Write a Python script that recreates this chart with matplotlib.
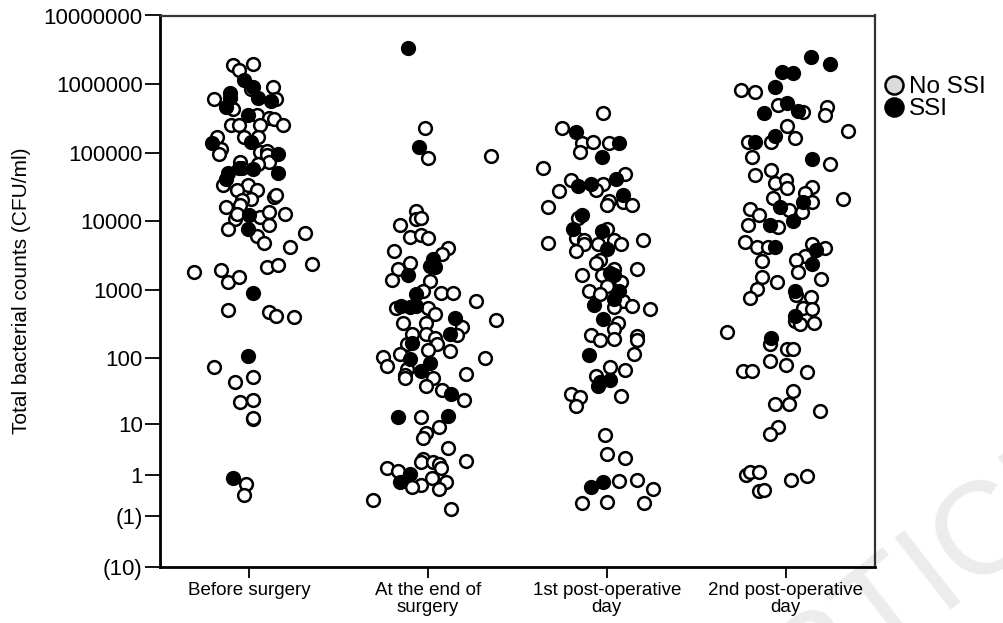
import numpy as np
import matplotlib
matplotlib.use('Agg')
import matplotlib.pyplot as plt
from matplotlib.lines import Line2D

plt.rcParams['font.family'] = ['Liberation Sans', 'DejaVu Sans']

# ---------------- data ----------------
categories = ['Before surgery', 'At the end of\nsurgery',
              '1st post-operative\nday', '2nd post-operative\nday']
tick_values = [1e7, 1e6, 1e5, 1e4, 1e3, 100, 10, 1, -1, -10]
tick_labels = ['10000000', '1000000', '100000', '10000', '1000', '100',
               '10', '1', '(1)', '(10)']
legend_labels = ['No SSI', 'SSI']

# values: signed log10(count + 1) of Total bacterial counts (CFU/ml)
# jitter: horizontal scatter offset of each point within its category
before_no_jit = [-0.09, -0.06, 0.02, 0.01, 0.13, -0.20, -0.09, 0.15, 0.04, 0.11, 0.14, 0.06, -0.10, -0.06, 0.19,
                 -0.18, -0.16, -0.17, -0.03, 0.05, 0.06, 0.10, 0.10, 0.11, 0.05, -0.05, -0.04, -0.15, -0.01, 0.04,
                 -0.07, 0.01, -0.04, -0.05, 0.14, 0.15, -0.13, -0.08, -0.07, 0.06, 0.11, 0.20, 0.11, -0.12, 0.04,
                 0.08, 0.31, 0.23, -0.31, -0.16, -0.12, -0.06, 0.10, 0.16, 0.35, -0.12, 0.11, 0.15, 0.25, -0.20,
                 -0.08, 0.02, -0.05, 0.02, 0.02, 0.02, -0.02, -0.03]
before_no_val = [6.28, 6.21, 6.30, 5.93, 5.96, 5.78, 5.63, 5.78, 5.55, 5.50, 5.49, 5.40, 5.41, 5.40, 5.40,
                 5.23, 5.05, 4.98, 5.23, 5.23, 5.01, 5.03, 4.96, 4.87, 4.84, 4.87, 4.77, 4.53, 4.53, 4.45,
                 4.45, 4.33, 4.31, 4.23, 4.35, 4.38, 4.21, 4.04, 4.11, 4.06, 4.14, 4.10, 3.94, 3.88, 3.79,
                 3.68, 3.83, 3.63, 3.26, 3.29, 3.11, 3.19, 3.33, 3.36, 3.38, 2.70, 2.67, 2.62, 2.61, 1.87,
                 1.66, 1.73, 1.36, 1.39, 1.12, 1.13, 0.17, 0.01]
before_ssi_jit = [-0.03, 0.02, -0.11, -0.11, -0.13, 0.05, 0.12, -0.01, -0.21, 0.01, 0.16, -0.06, 0.02, -0.12,
                  -0.13, 0.16, 0.00, -0.01, 0.02, -0.01, -0.09]
before_ssi_val = [6.06, 5.96, 5.87, 5.80, 5.67, 5.80, 5.75, 5.55, 5.14, 5.15, 4.98, 4.78, 4.76, 4.70,
                  4.62, 4.70, 4.09, 3.89, 2.96, 2.04, 0.25]

end_no_jit = [-0.02, 0.00, 0.35, -0.07, -0.07, -0.04, -0.16, -0.10, -0.04, 0.00, -0.19, 0.11, 0.08, -0.10,
              -0.17, -0.20, 0.01, -0.03, 0.07, 0.14, 0.27, 0.38, -0.18, 0.00, 0.04, -0.14, -0.01, 0.19, 0.16,
              -0.09, -0.12, -0.01, 0.04, 0.05, 0.00, 0.12, -0.16, -0.25, -0.23, 0.32, -0.12, -0.13, -0.13,
              0.21, 0.03, -0.01, 0.08, 0.20, -0.04, 0.06, -0.01, -0.03, 0.11, -0.03, -0.04, 0.03, 0.06, 0.07,
              0.21, -0.23, -0.17, 0.02, 0.10, -0.04, -0.09, 0.06, -0.31, 0.13]
end_no_val = [5.36, 4.92, 4.95, 4.15, 4.04, 4.05, 3.94, 3.77, 3.80, 3.75, 3.57, 3.61, 3.52, 3.39,
              3.31, 3.14, 3.13, 2.99, 2.96, 2.96, 2.84, 2.56, 2.73, 2.74, 2.65, 2.51, 2.51, 2.46, 2.34,
              2.36, 2.21, 2.35, 2.30, 2.21, 2.12, 2.11, 2.07, 2.02, 1.89, 2.00, 1.84, 1.76, 1.71,
              1.77, 1.71, 1.60, 1.54, 1.39, 1.14, 1.00, 0.91, 0.84, 0.69, 0.53, 0.49, 0.49, 0.46, 0.40,
              0.50, 0.40, 0.36, 0.25, 0.20, 0.16, 0.12, 0.09, -0.06, -0.20]
end_ssi_jit = [-0.11, -0.05, 0.03, 0.01, 0.04, -0.11, -0.07, -0.15, -0.10, -0.07, 0.15, 0.12, -0.09, -0.10,
               0.01, -0.04, 0.13, -0.17, 0.11, -0.10, -0.16]
end_ssi_val = [6.52, 5.08, 3.45, 3.35, 3.33, 3.21, 2.94, 2.77, 2.75, 2.77, 2.59, 2.35, 2.23, 1.99,
               1.93, 1.82, 1.48, 1.15, 1.16, 0.31, 0.20]

pod1_no_jit = [-0.02, -0.25, -0.14, -0.08, -0.15, 0.01, -0.36, -0.20, -0.02, -0.06, 0.10, -0.27, 0.01, 0.00,
               0.09, 0.14, -0.33, -0.16, 0.00, -0.17, -0.13, -0.13, -0.33, -0.17, -0.05, 0.04, 0.08, 0.20,
               -0.04, -0.06, -0.14, -0.03, 0.04, 0.17, 0.08, 0.00, -0.10, -0.04, 0.09, 0.14, 0.24, 0.04,
               0.06, 0.04, -0.09, -0.04, 0.17, 0.04, 0.17, 0.15, 0.02, 0.10, -0.06, -0.20, -0.15, -0.17,
               0.08, -0.01, 0.00, 0.10, 0.07, 0.17, 0.26, -0.14, 0.00, 0.21]
pod1_no_val = [5.58, 5.36, 5.14, 5.16, 5.01, 5.14, 4.77, 4.60, 4.55, 4.45, 4.69, 4.44, 4.30, 4.23,
               4.28, 4.24, 4.21, 4.05, 3.89, 3.76, 3.73, 3.67, 3.69, 3.56, 3.67, 3.72, 3.67, 3.73,
               3.43, 3.39, 3.22, 3.21, 3.31, 3.31, 3.11, 3.05, 2.99, 2.94, 2.84, 2.77, 2.72, 2.75,
               2.51, 2.43, 2.34, 2.27, 2.33, 2.28, 2.27, 2.07, 1.87, 1.83, 1.74, 1.48, 1.44, 1.30,
               1.45, 0.89, 0.61, 0.55, 0.21, 0.23, 0.09, -0.11, -0.09, -0.11]
pod1_ssi_jit = [-0.17, 0.07, -0.03, -0.16, -0.09, 0.05, 0.09, -0.14, -0.19, -0.03, 0.00, 0.02, 0.04, 0.07,
                0.04, -0.07, -0.02, -0.10, -0.04, 0.02, -0.05, -0.09, -0.02]
pod1_ssi_val = [5.30, 5.14, 4.93, 4.51, 4.55, 4.61, 4.39, 4.09, 3.89, 3.86, 3.60, 3.24, 3.21, 2.98,
                2.87, 2.78, 2.57, 2.05, 1.65, 1.68, 1.60, 0.13, 0.20]

pod2_no_jit = [-0.25, -0.17, -0.04, 0.10, 0.23, 0.22, 0.35, 0.01, 0.05, -0.08, -0.21, -0.19, 0.25, -0.17,
               -0.08, -0.06, 0.00, 0.01, 0.15, 0.11, 0.32, -0.07, 0.02, 0.15, 0.09, -0.20, -0.15, -0.21,
               -0.04, -0.23, -0.16, -0.10, -0.13, 0.15, 0.22, 0.11, 0.06, 0.07, 0.20, -0.13, -0.05, -0.16,
               -0.20, 0.06, 0.14, 0.10, 0.15, 0.05, 0.08, 0.16, -0.33, -0.09, 0.01, 0.04, -0.09, 0.00,
               -0.24, -0.19, 0.12, 0.04, -0.06, 0.02, 0.19, -0.04, -0.09, -0.22, -0.20, -0.15, 0.03, 0.12,
               -0.15, -0.12]
pod2_no_val = [5.92, 5.88, 5.70, 5.60, 5.67, 5.55, 5.31, 5.39, 5.22, 5.16, 5.15, 4.94, 4.83, 4.68,
               4.75, 4.56, 4.60, 4.48, 4.50, 4.41, 4.32, 4.34, 4.16, 4.28, 4.13, 4.18, 4.09, 3.94,
               3.91, 3.70, 3.62, 3.62, 3.42, 3.67, 3.61, 3.50, 3.44, 3.26, 3.16, 3.19, 3.11, 3.01,
               2.88, 2.92, 2.89, 2.74, 2.72, 2.55, 2.50, 2.52, 2.39, 2.21, 2.13, 2.13, 1.96, 1.90,
               1.82, 1.82, 1.80, 1.53, 1.34, 1.33, 1.24, 1.00, 0.90, 0.30, 0.34, 0.35, 0.22, 0.29,
               0.06, 0.08]
pod2_ssi_jit = [0.14, 0.25, -0.02, 0.04, -0.06, 0.01, -0.12, 0.07, -0.06, -0.17, 0.15, -0.03, 0.10, 0.04,
                -0.09, -0.06, 0.17, 0.15, 0.05, 0.05, -0.08]
pod2_ssi_val = [6.39, 6.30, 6.18, 6.16, 5.96, 5.73, 5.58, 5.61, 5.24, 5.16, 4.91, 4.21, 4.28, 4.01,
                3.94, 3.62, 3.58, 3.37, 2.99, 2.62, 2.30]

no_ssi_groups = [(before_no_jit, before_no_val), (end_no_jit, end_no_val),
                 (pod1_no_jit, pod1_no_val), (pod2_no_jit, pod2_no_val)]
ssi_groups = [(before_ssi_jit, before_ssi_val), (end_ssi_jit, end_ssi_val),
              (pod1_ssi_jit, pod1_ssi_val), (pod2_ssi_jit, pod2_ssi_val)]


def signed_log(v):
    v = np.asarray(v, dtype=float)
    return np.sign(v) * np.log10(np.abs(v) + 1)


# ---------------- figure ----------------
fig = plt.figure(figsize=(10.04, 6.23), dpi=100)
ax = fig.add_axes([160 / 1004, 1 - 567 / 623, (875 - 160) / 1004, (567 - 15.5) / 623])
ax.patch.set_alpha(0.0)

MS = 84
for i, ((jn, vn), (js, vs)) in enumerate(zip(no_ssi_groups, ssi_groups)):
    pos = i + 1
    ax.scatter(pos + np.array(jn), vn, s=MS, facecolors='white', edgecolors='black',
               linewidths=1.8, zorder=3)
    ax.scatter(pos + np.array(js), vs, s=MS, facecolors='black', edgecolors='black',
               linewidths=1.8, zorder=4)

ax.set_xlim(0.5, 4.5)
ax.set_ylim(signed_log(-10), signed_log(1e7))
ax.set_yticks(signed_log(tick_values))
ax.set_yticklabels(tick_labels, fontsize=16)
ax.set_xticks(range(1, len(categories) + 1))
ax.set_xticklabels(categories, fontsize=13.5, linespacing=0.95)
ax.tick_params(axis='y', length=11, width=1.3, pad=1.5, direction='out')
ax.tick_params(axis='x', length=8, width=1.3, pad=3, direction='out')

for s in ['left', 'bottom']:
    ax.spines[s].set_linewidth(2.0)
    ax.spines[s].set_color('black')
for s in ['top', 'right']:
    ax.spines[s].set_linewidth(1.6)
    ax.spines[s].set_color('#333333')

ax.set_ylabel('Total bacterial counts (CFU/ml)', fontsize=15, labelpad=9)

handles = [Line2D([], [], marker='o', linestyle='none', markersize=13,
                  markerfacecolor='#dcdcdc', markeredgecolor='black', markeredgewidth=1.8),
           Line2D([], [], marker='o', linestyle='none', markersize=13,
                  markerfacecolor='black', markeredgecolor='black', markeredgewidth=1.8)]
ax.legend(handles, legend_labels, loc='upper left', bbox_to_anchor=(1.008, 0.89),
          frameon=False, fontsize=17.5, handletextpad=0.05, labelspacing=0.0,
          borderaxespad=0, borderpad=0, handlelength=1.1)

# faint publisher watermark behind everything, clipped by the figure edge as in the source
fig.text(0.93, 0.07, 'ARTICLE', fontsize=95, color='#ececec', rotation=38,
         ha='center', va='center', zorder=-5)

fig.savefig('out.png', dpi=100)
